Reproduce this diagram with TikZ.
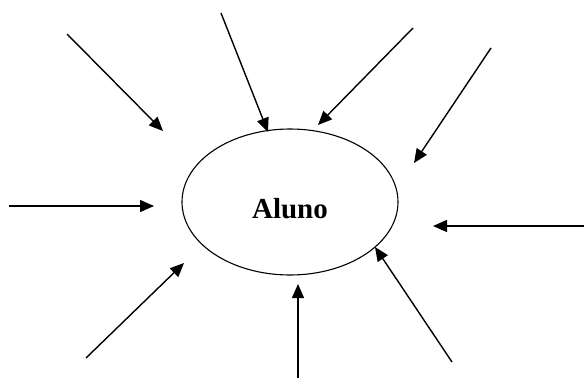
\documentclass[tikz,border=0pt]{standalone}
\usepackage{fontspec}
\setmainfont{Liberation Serif}
\usetikzlibrary{shapes.geometric,arrows.meta}
\begin{document}
\begin{tikzpicture}[x=1pt,y=-1pt,
  arr/.style={line width=1.4pt,-{Triangle[length=14pt,width=12pt]}},
  oval/.style={draw,ellipse,line width=1.1pt,minimum width=216pt,minimum height=146pt,inner sep=0pt}]
\useasboundingbox (0,0) rectangle (584,378);
\node[oval] (aluno) at (290,202) {};
\node[font=\bfseries\fontsize{29}{32}\selectfont] (lbl) at (290,209) {Aluno};
\coordinate (s1) at (67,34);   \coordinate (e1) at (163,131);
\coordinate (s2) at (221,13);  \coordinate (e2) at (268,132);
\coordinate (s3) at (413,28);  \coordinate (e3) at (318,125);
\coordinate (s4) at (491,48);  \coordinate (e4) at (414,163);
\coordinate (s5) at (9,206);   \coordinate (e5) at (154,206);
\coordinate (s6) at (584,226); \coordinate (e6) at (433,226);
\coordinate (s7) at (86,358);  \coordinate (e7) at (184,263);
\coordinate (s8) at (298,378); \coordinate (e8) at (298,284);
\coordinate (s9) at (452,362); \coordinate (e9) at (375,247);
\foreach \i in {1,...,9} {\draw[arr] (s\i) -- (e\i);}
\end{tikzpicture}
\end{document}
